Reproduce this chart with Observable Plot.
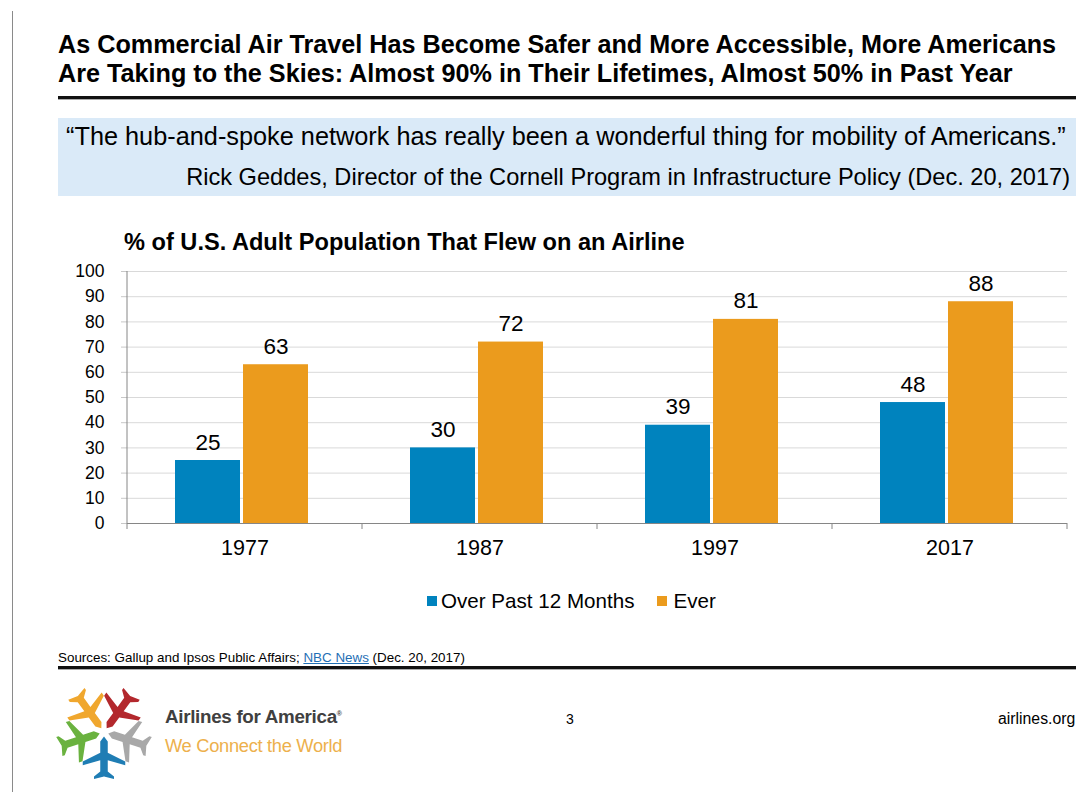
<!DOCTYPE html>
<html><head><meta charset="utf-8">
<script src="https://cdn.jsdelivr.net/npm/d3@7"></script>
<script src="https://cdn.jsdelivr.net/npm/@observablehq/plot@0.6"></script>
<style>
html,body{margin:0;padding:0;background:#fff;}
body{width:1076px;height:792px;overflow:hidden;position:relative;font-family:"Liberation Sans",Arial,sans-serif;color:#000;}
.abs{position:absolute;white-space:nowrap;}
.sw{display:inline-block;width:10px;height:10px;margin-right:4px;}
</style></head><body>
<div class="abs" style="left:12px;top:11px;width:1px;height:781px;background:#8a8a8a"></div>
<div class="abs" style="left:58px;top:30px;font-weight:bold;font-size:25.2px;line-height:29px">As Commercial Air Travel Has Become Safer and More Accessible, More Americans<br>Are Taking to the Skies: Almost 90% in Their Lifetimes, Almost 50% in Past Year</div>
<div class="abs" style="left:58px;top:96px;width:1018px;height:3px;background:#111"></div>
<div class="abs" style="left:58px;top:99px;width:1018px;height:1px;background:#aaa"></div>
<div class="abs" style="left:58px;top:118px;width:1018px;height:78px;background:#DAEAF8"></div>
<div class="abs" style="left:66px;top:122px;font-size:25.3px">“The hub-and-spoke network has really been a wonderful thing for mobility of Americans.”</div>
<div class="abs" style="right:6px;top:164px;font-size:23.6px">Rick Geddes, Director of the Cornell Program in Infrastructure Policy (Dec. 20, 2017)</div>
<div class="abs" style="left:124px;top:229px;font-weight:bold;font-size:23.6px">% of U.S. Adult Population That Flew on an Airline</div>
<div id="chart" class="abs" style="left:0;top:260px"></div>
<div id="legend" class="abs" style="left:427px;top:589px;font-size:20.6px;line-height:24px;display:flex;align-items:center;"></div>
<div class="abs" style="left:58px;top:650px;font-size:13.4px">Sources: Gallup and Ipsos Public Affairs; <span style="color:#1F6FB5;text-decoration:underline">NBC News</span> (Dec. 20, 2017)</div>
<div class="abs" style="left:58px;top:666px;width:1018px;height:3px;background:#111"></div>
<div class="abs" style="left:58px;top:669px;width:1018px;height:1px;background:#aaa"></div>
<svg id="logo" class="abs" style="left:50px;top:680px" width="110" height="105"></svg>
<div class="abs" style="left:165px;top:706px;font-size:18.8px;font-weight:bold;color:#404040;letter-spacing:-0.3px">Airlines for America<sup style="font-size:7px">®</sup></div>
<div class="abs" style="left:165px;top:735px;font-size:18.3px;color:#EDB04C;letter-spacing:-0.3px">We Connect the World</div>
<div class="abs" style="left:566px;top:711px;font-size:14px">3</div>
<div class="abs" style="left:998px;top:710px;font-size:15.8px">airlines.org</div>
<script>
const years = ["1977", "1987", "1997", "2017"];
const series = ["Over Past 12 Months", "Ever"];
const past12 = [25, 30, 39, 48];
const ever = [63, 72, 81, 88];
const yTicks = [0, 10, 20, 30, 40, 50, 60, 70, 80, 90, 100];
const colors = ["#0083BE", "#EB9B1D"];

const data = years.flatMap((yr, i) => [
  {year: yr, series: series[0], value: past12[i]},
  {year: yr, series: series[1], value: ever[i]}
]);

const chart = Plot.plot({
  width: 1076, height: 303,
  marginTop: 11, marginBottom: 40, marginLeft: 125, marginRight: 8,
  style: {fontFamily: "Liberation Sans, Arial, sans-serif", background: "transparent", color: "#000"},
  fx: {domain: years, padding: 0, label: null},
  x: {domain: series, axis: null, paddingInner: 0.045, paddingOuter: 0.73, align: 0.47},
  y: {domain: [0, 100], axis: null},
  color: {domain: series, range: colors},
  marks: [
    Plot.gridY(yTicks, {stroke: "#D9D9D9", strokeOpacity: 1}),
    Plot.barY(data, {fx: "year", x: "series", y: "value", fill: "series"}),
    Plot.text(data, {fx: "year", x: "series", y: "value", text: d => String(d.value), lineAnchor: "bottom", dy: -11, fontSize: 22.5, fill: "#000"}),
    Plot.ruleY([0], {stroke: "#868686"}),
    Plot.axisY(yTicks, {tickSize: 6, tickPadding: 17, fontSize: 17.5, stroke: "#C8C8C8", fill: "#000", label: null}),
    Plot.axisFx({anchor: "bottom", tickSize: 0, tickPadding: 16, fontSize: 21.5, label: null, fill: "#000"})
  ]
});
document.getElementById("chart").appendChild(chart);

// y-axis line and category boundary ticks, positioned from Plot's own scales
const ys = chart.scale("y"), fxs = chart.scale("fx");
const y0 = ys.apply(0), y100 = ys.apply(100);
const bounds = years.map(yr => fxs.apply(yr)).concat([fxs.apply(years[years.length - 1]) + fxs.bandwidth]);
const svg = d3.select(chart);
const g = svg.append("g").attr("stroke", "#868686");
g.append("line").attr("x1", bounds[0]).attr("x2", bounds[0]).attr("y1", y100).attr("y2", y0);
bounds.forEach(b => g.append("line").attr("x1", b).attr("x2", b).attr("y1", y0).attr("y2", y0 + 6));

// legend
const legend = d3.select("#legend");
series.forEach((s, i) => {
  const item = legend.append("span").style("display", "inline-flex").style("align-items", "center").style("margin-right", i === 0 ? "23px" : "0");
  item.append("span").attr("class", "sw").style("background", colors[i]).style("margin-right", i === 0 ? "4px" : "6px");
  item.append("span").text(s);
});

// logo: five plane silhouettes around a centre
const planePath = "M0,-18 L3,-14 L3,-5 L17,2 L17,5 L3,1 L3,10 L8,14 L8,16 L0,14 L-8,16 L-8,14 L-3,10 L-3,1 L-17,5 L-17,2 L-3,-5 L-3,-14 Z";
const planes = [
  {angle: 90, color: "#1F7DB4"},
  {angle: 18, color: "#A8A8A8"},
  {angle: -54, color: "#B3282D"},
  {angle: -126, color: "#F0A72E"},
  {angle: 162, color: "#6AB23F"}
];
const logo = d3.select("#logo");
const cx = 54, cy = 52, r = 27;
planes.forEach(p => {
  const t = p.angle * Math.PI / 180;
  logo.append("path").attr("d", planePath).attr("fill", p.color)
    .attr("transform", `translate(${cx + r * Math.cos(t)},${cy + r * Math.sin(t)}) rotate(${p.angle - 90}) scale(1.25)`);
});
</script>
</body></html>
